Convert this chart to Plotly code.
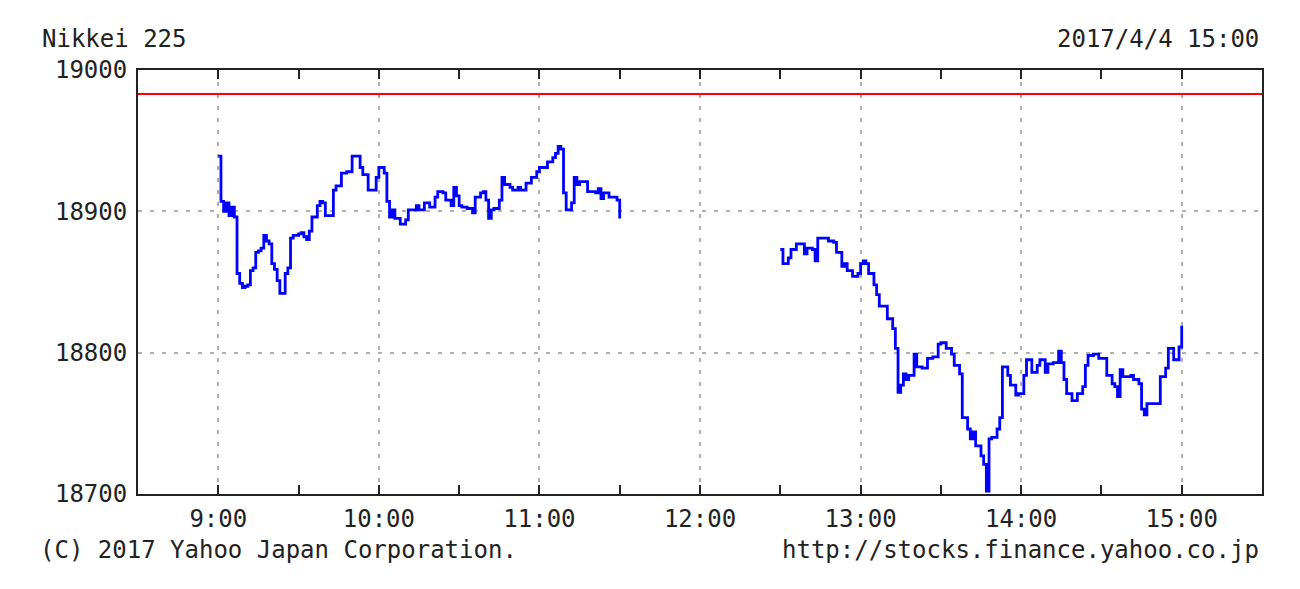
import pandas as pd
import plotly.graph_objects as go

# minutes after 09:00 and index values (1-minute steps)
am_minutes = [0, 1, 2, 3, 4, 5, 6, 7, 8, 9, 10, 11, 12, 13, 14, 15, 16, 17, 18, 19,
              20, 21, 22, 23, 24, 25, 26, 27, 28, 30, 31, 32, 33, 34, 35, 37, 38, 39,
              40, 41, 43, 44, 46, 48, 50, 52, 53, 54, 56, 58, 59, 60, 62, 63, 64, 65,
              66, 68, 70, 71, 74, 75, 77, 79, 81, 82, 84, 85, 87, 88, 89, 90, 91, 93,
              95, 96, 98, 99, 100, 101, 102, 103, 105, 106, 107, 109, 110, 112, 113,
              115, 117, 119, 120, 123, 125, 126, 127, 128, 129, 130, 131, 132, 133,
              134, 135, 137, 138, 141, 142, 143, 144, 146, 149, 150]
am_values = [18939, 18907, 18900, 18906, 18897, 18903, 18896, 18856, 18849, 18846,
             18847, 18848, 18858, 18860, 18871, 18872, 18874, 18883, 18879, 18877,
             18863, 18859, 18851, 18842, 18842, 18856, 18860, 18881, 18883, 18884,
             18885, 18882, 18880, 18886, 18896, 18904, 18907, 18906, 18897, 18897,
             18915, 18918, 18927, 18928, 18939, 18939, 18931, 18926, 18915, 18915,
             18924, 18931, 18927, 18907, 18896, 18901, 18895, 18891, 18894, 18901,
             18904, 18901, 18906, 18903, 18910, 18914, 18913, 18908, 18904, 18917,
             18911, 18904, 18903, 18902, 18899, 18910, 18913, 18914, 18908, 18895,
             18901, 18902, 18908, 18924, 18919, 18917, 18915, 18917, 18915, 18920,
             18924, 18928, 18931, 18935, 18938, 18941, 18946, 18944, 18913, 18901,
             18901, 18906, 18924, 18919, 18921, 18921, 18914, 18913, 18916, 18909,
             18913, 18910, 18908, 18895]

pm_minutes = [210, 211, 213, 214, 216, 218, 219, 220, 222, 223, 224, 226, 228, 230,
              231, 233, 234, 235, 237, 239, 240, 241, 242, 243, 245, 246, 247, 249,
              250, 252, 253, 254, 255, 256, 257, 258, 260, 261, 263, 265, 267, 269,
              270, 272, 274, 275, 277, 278, 280, 281, 282, 283, 285, 286, 287, 288,
              289, 291, 292, 293, 295, 296, 298, 299, 301, 302, 304, 306, 307, 309,
              310, 312, 314, 315, 316, 317, 319, 321, 323, 324, 325, 327, 329, 331,
              332, 334, 335, 336, 337, 338, 341, 342, 344, 345, 346, 347, 351, 352,
              353, 354, 355, 356, 357, 358, 359, 360]
pm_values = [18873, 18863, 18867, 18873, 18877, 18877, 18870, 18874, 18873, 18865,
             18881, 18881, 18879, 18878, 18871, 18861, 18863, 18858, 18854, 18856,
             18863, 18865, 18863, 18856, 18848, 18841, 18833, 18833, 18824, 18817,
             18803, 18772, 18777, 18785, 18781, 18784, 18799, 18790, 18789, 18796,
             18797, 18806, 18807, 18803, 18799, 18791, 18785, 18754, 18746, 18739,
             18744, 18734, 18727, 18721, 18702, 18739, 18740, 18746, 18754, 18790,
             18784, 18777, 18770, 18771, 18784, 18795, 18786, 18791, 18795, 18786,
             18792, 18793, 18801, 18793, 18781, 18771, 18766, 18771, 18776, 18791,
             18798, 18799, 18796, 18796, 18784, 18778, 18776, 18769, 18788, 18783,
             18784, 18781, 18778, 18760, 18756, 18764, 18764, 18783, 18783, 18789,
             18803, 18803, 18795, 18795, 18804, 18819]

prev_close = 18983
title_left = "Nikkei 225"
title_right = "2017/4/4 15:00"
footer_left = "(C) 2017 Yahoo Japan Corporation."
footer_right = "http://stocks.finance.yahoo.co.jp"
y_ticks = [18700, 18800, 18900, 19000]

base = pd.Timestamp("2017-04-04 09:00")
am_t = [base + pd.Timedelta(minutes=m) for m in am_minutes]
pm_t = [base + pd.Timedelta(minutes=m) for m in pm_minutes]
x_start = base - pd.Timedelta(minutes=30)
x_end = base + pd.Timedelta(minutes=390)

FONT = "DejaVu Sans Mono"
W, H = 1300, 589
ML, MR, MT, MB = 130, 46, 62, 103
OFF = 8  # page body offset

fig = go.Figure()
fig.add_trace(go.Scatter(x=[x_start, x_end], y=[prev_close, prev_close], mode="lines",
                         line=dict(color="#ff0000", width=2), hoverinfo="skip"))
for t, v in ((am_t, am_values), (pm_t, pm_values)):
    fig.add_trace(go.Scatter(x=t, y=v, mode="lines",
                             line=dict(color="#0000ff", width=2.8, shape="hv")))

fig.update_layout(
    width=W, height=H,
    margin=dict(l=ML, r=MR, t=MT, b=MB),
    paper_bgcolor="white", plot_bgcolor="white",
    showlegend=False,
    font=dict(family=FONT, size=24, color="#222222"),
)
fig.update_xaxes(
    type="date", range=[x_start, x_end],
    tick0=base, dtick=3600000, tickformat="%-H:%M",
    ticks="inside", ticklen=9, tickwidth=2, tickcolor="#222222",
    minor=dict(dtick=1800000, ticks="inside", ticklen=9, tickwidth=2,
               tickcolor="#222222", showgrid=False),
    showline=True, linecolor="#222222", linewidth=2, mirror="allticks",
    showgrid=True, gridcolor="#b0b0b0", gridwidth=2, griddash="4px,8px",
    zeroline=False, tickfont=dict(family=FONT, size=24), ticklabelstandoff=2,
)
fig.update_yaxes(
    range=[18700, 19000], tickvals=y_ticks, ticktext=[str(v) for v in y_ticks],
    ticks="", showline=True, linecolor="#222222", linewidth=2, mirror=True,
    showgrid=True, gridcolor="#b0b0b0", gridwidth=2, griddash="4px,8px",
    zeroline=False, tickfont=dict(family=FONT, size=24), ticklabelstandoff=4,
)

# annotation positions in target-page pixels
ann = [
    (title_left, 40, 39, "left"),
    (title_right, 1261, 39, "right"),
    (footer_left, 38, 550, "left"),
    (footer_right, 1261, 550, "right"),
]
pw = W - ML - MR
ph = H - MT - MB
for text, px, py, anchor in ann:
    fx = (px - OFF - ML) / pw
    fy = 1 - (py - OFF - MT) / ph
    fig.add_annotation(text=text, xref="paper", yref="paper", x=fx, y=fy,
                       xanchor=anchor, yanchor="middle", showarrow=False,
                       font=dict(family=FONT, size=24, color="#222222"))

fig.write_html("out.html")
